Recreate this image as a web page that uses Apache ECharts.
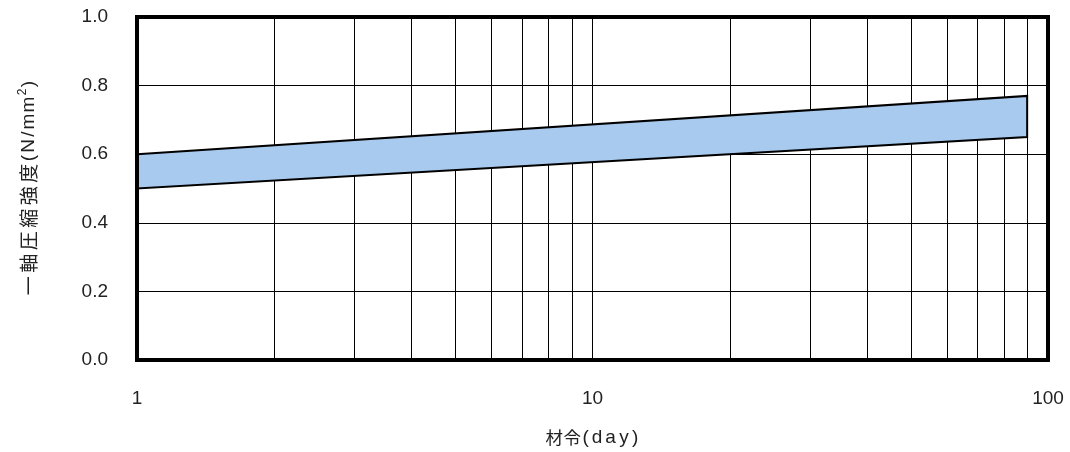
<!DOCTYPE html>
<html>
<head>
<meta charset="utf-8">
<script src="https://cdn.jsdelivr.net/npm/echarts@6/dist/echarts.min.js"></script>
<style>html,body{margin:0;padding:0;background:#fff}#c{width:1070px;height:452px}</style>
</head>
<body>
<div id="c"></div>
<script>
// Data
const bandDays = [1, 90];
const bandLower = [0.50, 0.65];
const bandUpper = [0.60, 0.77];
const minorDays = [2,3,4,5,6,7,8,9,20,30,40,50,60,70,80,90];
const yTicks = [0, 0.2, 0.4, 0.6, 0.8, 1.0];

const chart = echarts.init(document.getElementById('c'), null, {renderer: 'canvas'});
const font = 'Liberation Sans';
const cjk = 'Noto Sans CJK JP';
const txt = '#222';

function tok(w, size, fam) {
  return {width: w, align: 'center', fontFamily: fam || font, fontSize: size, color: txt};
}

chart.setOption({
  animation: false,
  backgroundColor: '#fff',
  grid: {left: 137, right: 22, top: 17, bottom: 91, show: true, borderColor: '#000', borderWidth: 4, z: 10},
  xAxis: {
    type: 'log', logBase: 10, min: 1, max: 100,
    name: '{k|材}{k|令}{p|(}{d|d}{d|a}{d|y}{p|)}', nameLocation: 'middle', nameGap: 68,
    nameTextStyle: {fontFamily: cjk, fontSize: 18, color: txt,
      rich: {
        k: tok(18, 17.5, cjk),
        p: tok(9, 19),
        d: tok(13.5, 19)
      }},
    axisLine: {show: false}, axisTick: {show: false},
    axisLabel: {fontFamily: font, fontSize: 19, color: txt, margin: 29, formatter: v => String(v)},
    splitLine: {show: true, lineStyle: {color: '#000', width: 1}}
  },
  yAxis: {
    type: 'value', min: 0, max: 1, interval: 0.2,
    name: '{k|一}{k|軸}{k|圧}{k|縮}{k|強}{k|度}{p|(}{n|N}{s|/}{m|m}{m|m}{sup|2}{p|)}', nameLocation: 'middle', nameGap: 96,
    nameTextStyle: {fontFamily: cjk, fontSize: 18, color: txt,
      rich: {
        k: tok(22.5, 19, cjk),
        p: tok(8, 19),
        n: tok(16, 19),
        s: tok(8, 19),
        m: tok(17, 19),
        sup: {width: 8, align: 'center', fontFamily: font, fontSize: 12, color: txt, verticalAlign: 'bottom', padding: [0, 0, 12, 0]}
      }},
    axisLine: {show: false}, axisTick: {show: false},
    axisLabel: {fontFamily: font, fontSize: 19, color: txt, margin: 29, formatter: v => v.toFixed(1)},
    splitLine: {show: true, lineStyle: {color: '#000', width: 1}}
  },
  series: [
    {
      type: 'custom', z: 1, silent: true,
      data: minorDays.map(d => [d]),
      renderItem: (params, api) => {
        const p0 = api.coord([api.value(0), yTicks[0]]);
        const p1 = api.coord([api.value(0), yTicks[yTicks.length - 1]]);
        return {type: 'line', shape: {x1: Math.round(p0[0]) + 0.5, y1: p0[1], x2: Math.round(p1[0]) + 0.5, y2: p1[1]},
          style: {stroke: '#000', lineWidth: 1}};
      }
    },
    {
      type: 'custom', z: 5, silent: true,
      data: [[0]],
      renderItem: (params, api) => {
        const pts = [];
        for (let i = 0; i < bandDays.length; i++) pts.push(api.coord([bandDays[i], bandUpper[i]]));
        for (let i = bandDays.length - 1; i >= 0; i--) pts.push(api.coord([bandDays[i], bandLower[i]]));
        return {type: 'polygon', shape: {points: pts},
          style: {fill: '#a7caee', stroke: '#000', lineWidth: 2, lineJoin: 'miter'}};
      }
    }
  ]
});
</script>
</body>
</html>
